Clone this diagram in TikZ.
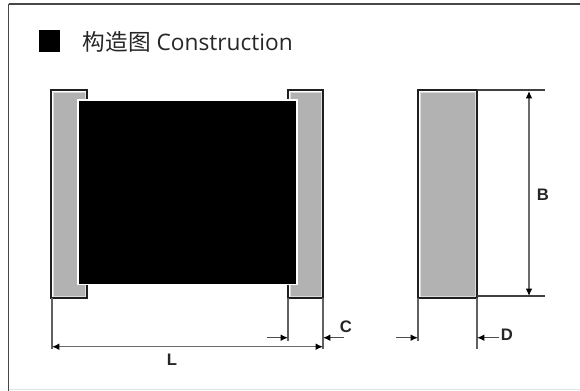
\documentclass[tikz,border=0pt]{standalone}
\usepackage{fontspec}
\setmainfont{Open Sans}
\setsansfont{Liberation Sans}
\newfontfamily\cjk{Noto Sans CJK SC}
\usetikzlibrary{arrows.meta}
\tikzset{
  x=0.75pt,y=-0.75pt,
  frameline/.style={draw=black!72,line width=1.3pt},
  termbox/.style={draw=black!88,line width=1.15pt,fill=white},
  grayfill/.style={fill=black!30,draw=black!14,line width=0.5pt},
  extline/.style={draw=black!62,line width=0.95pt},
  flatline/.style={draw=black!75,line width=0.95pt},
  dimline/.style={draw=black!58,line width=0.95pt},
  bigtip/.tip={Latex[length=5.5pt,width=5pt,black]},
  tipline/.style={draw=black!70,line width=0.95pt,-bigtip},
  dimlabel/.style={font=\sffamily\bfseries\fontsize{12.5}{14}\selectfont,inner sep=0pt,text=black!85},
}
\begin{document}
\begin{tikzpicture}
\useasboundingbox (0,0) rectangle (580,391);
\fill[white] (0,0) rectangle (580,391);
\draw[frameline] (8.5,3.7) -- (580,3.7);
\draw[frameline] (8.5,3.7) -- (8.5,391);
\draw[black!10,line width=0.6pt] (9,389.5) -- (580,389.5);
% title
\node[fill=black,inner sep=0pt,minimum width=15.5pt,minimum height=16.5pt] (bullet) at (49.7,41) {};
\node[anchor=west,inner sep=0pt,text=black!85] (title) at (82.5,42) {\fontsize{17}{20}\selectfont{\cjk 构造图} Construction};
% left terminal
\path[termbox] (51,90) rectangle (87,298);
\path[grayfill] (53,92.5) rectangle (85,296);
% right terminal
\path[termbox] (288,90) rectangle (323,298);
\path[grayfill] (290,92.5) rectangle (321,296);
% body
\path[fill=white] (77,99) rectangle (298,285);
\path[fill=black] (79,101) rectangle (296,283.5);
% side view
\path[termbox] (418,90) rectangle (477,298);
\path[grayfill] (420,92.5) rectangle (475,296);
% extension
\coordinate (lA) at (52,298); \coordinate (lB) at (52,349);
\coordinate (cA) at (288,298); \coordinate (cB) at (288,341);
\coordinate (rA) at (323,298); \coordinate (rB) at (323,349);
\coordinate (sA) at (418,298); \coordinate (sB) at (418,341);
\coordinate (tA) at (477,298); \coordinate (tB) at (477,349);
\coordinate (bA) at (477,90); \coordinate (bB) at (545,90);
\coordinate (cC) at (477,296); \coordinate (cD) at (545,296);
\draw[extline] (lA)--(lB);
\draw[extline] (cA)--(cB);
\draw[extline] (rA)--(rB);
\draw[extline] (sA)--(sB);
\draw[extline] (tA)--(tB);
\draw[flatline] (bA)--(bB);
\draw[flatline] (cC)--(cD);
% dims
\coordinate (Lm) at (172,346.7);
\draw[dimline,bigtip-bigtip] (lB |- Lm) -- (rB |- Lm);
\coordinate (Bm) at (529,180);
\draw[dimline,bigtip-bigtip] (Bm |- bB) ++(0,1) -- (Bm |- cD);
\coordinate (c1) at (267,337.7); \coordinate (c2) at (344,337.7);
\coordinate (d1) at (396,337.7); \coordinate (d2) at (499,337.7);
\draw[tipline] (c1) -- (cB |- c1);
\draw[tipline] (c2) -- (rB |- c2);
\draw[tipline] (d1) -- (sB |- d1);
\draw[tipline] (d2) -- (tB |- d2);
\node[dimlabel] (lL) at (172,360) {L};
\node[dimlabel] (lC) at (346,327) {C};
\node[dimlabel] (lD) at (507,335) {D};
\node[dimlabel] (lB2) at (543,195) {B};
\end{tikzpicture}
\end{document}
